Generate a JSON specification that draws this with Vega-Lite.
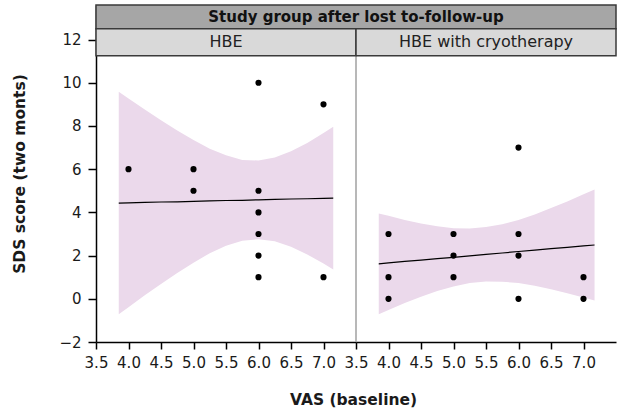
{
  "$schema": "https://vega.github.io/schema/vega-lite/v6.json",
  "background": "white",
  "padding": {"left": 12, "top": 4, "right": 0, "bottom": 0},
  "spacing": 0,
  "bounds": "flush",
  "config": {
    "view": {"stroke": null},
    "font": "DejaVu Sans",
    "axis": {
      "grid": false,
      "domainColor": "#000000",
      "domainWidth": 1.5,
      "tickColor": "#000000",
      "tickWidth": 1.5,
      "labelColor": "#1a1a1a",
      "labelFontSize": 15,
      "labelOverlap": false,
      "labelFlush": false,
      "titleColor": "#1a1a1a",
      "titleFontSize": 15.5,
      "titleFontWeight": "bold"
    }
  },
  "datasets": {
    "points": [
      {"group": "HBE", "vas": 4, "sds": 6},
      {"group": "HBE", "vas": 5, "sds": 6},
      {"group": "HBE", "vas": 5, "sds": 5},
      {"group": "HBE", "vas": 6, "sds": 10},
      {"group": "HBE", "vas": 6, "sds": 5},
      {"group": "HBE", "vas": 6, "sds": 4},
      {"group": "HBE", "vas": 6, "sds": 3},
      {"group": "HBE", "vas": 6, "sds": 2},
      {"group": "HBE", "vas": 6, "sds": 1},
      {"group": "HBE", "vas": 7, "sds": 9},
      {"group": "HBE", "vas": 7, "sds": 1},
      {"group": "HBE with cryotherapy", "vas": 4, "sds": 3},
      {"group": "HBE with cryotherapy", "vas": 4, "sds": 1},
      {"group": "HBE with cryotherapy", "vas": 4, "sds": 0},
      {"group": "HBE with cryotherapy", "vas": 5, "sds": 3},
      {"group": "HBE with cryotherapy", "vas": 5, "sds": 2},
      {"group": "HBE with cryotherapy", "vas": 5, "sds": 1},
      {"group": "HBE with cryotherapy", "vas": 6, "sds": 7},
      {"group": "HBE with cryotherapy", "vas": 6, "sds": 3},
      {"group": "HBE with cryotherapy", "vas": 6, "sds": 2},
      {"group": "HBE with cryotherapy", "vas": 6, "sds": 0},
      {"group": "HBE with cryotherapy", "vas": 7, "sds": 1},
      {"group": "HBE with cryotherapy", "vas": 7, "sds": 0}
    ],
    "fits": [
      {"group": "HBE", "vas": 3.85, "fit": 4.43, "lo": -0.72, "hi": 9.58},
      {"group": "HBE", "vas": 4.0, "fit": 4.44, "lo": -0.39, "hi": 9.27},
      {"group": "HBE", "vas": 4.25, "fit": 4.46, "lo": 0.16, "hi": 8.76},
      {"group": "HBE", "vas": 4.5, "fit": 4.48, "lo": 0.69, "hi": 8.27},
      {"group": "HBE", "vas": 4.75, "fit": 4.49, "lo": 1.19, "hi": 7.79},
      {"group": "HBE", "vas": 5.0, "fit": 4.51, "lo": 1.67, "hi": 7.35},
      {"group": "HBE", "vas": 5.25, "fit": 4.53, "lo": 2.11, "hi": 6.95},
      {"group": "HBE", "vas": 5.5, "fit": 4.55, "lo": 2.46, "hi": 6.64},
      {"group": "HBE", "vas": 5.75, "fit": 4.56, "lo": 2.69, "hi": 6.43},
      {"group": "HBE", "vas": 6.0, "fit": 4.58, "lo": 2.76, "hi": 6.4},
      {"group": "HBE", "vas": 6.25, "fit": 4.6, "lo": 2.66, "hi": 6.54},
      {"group": "HBE", "vas": 6.5, "fit": 4.62, "lo": 2.41, "hi": 6.83},
      {"group": "HBE", "vas": 6.75, "fit": 4.63, "lo": 2.05, "hi": 7.21},
      {"group": "HBE", "vas": 7.0, "fit": 4.65, "lo": 1.63, "hi": 7.67},
      {"group": "HBE", "vas": 7.15, "fit": 4.66, "lo": 1.36, "hi": 7.96},
      {"group": "HBE with cryotherapy", "vas": 3.85, "fit": 1.62, "lo": -0.71, "hi": 3.95},
      {"group": "HBE with cryotherapy", "vas": 4.0, "fit": 1.66, "lo": -0.52, "hi": 3.84},
      {"group": "HBE with cryotherapy", "vas": 4.25, "fit": 1.73, "lo": -0.19, "hi": 3.65},
      {"group": "HBE with cryotherapy", "vas": 4.5, "fit": 1.79, "lo": 0.1, "hi": 3.48},
      {"group": "HBE with cryotherapy", "vas": 4.75, "fit": 1.86, "lo": 0.36, "hi": 3.36},
      {"group": "HBE with cryotherapy", "vas": 5.0, "fit": 1.92, "lo": 0.57, "hi": 3.27},
      {"group": "HBE with cryotherapy", "vas": 5.25, "fit": 1.99, "lo": 0.73, "hi": 3.25},
      {"group": "HBE with cryotherapy", "vas": 5.5, "fit": 2.06, "lo": 0.8, "hi": 3.32},
      {"group": "HBE with cryotherapy", "vas": 5.75, "fit": 2.12, "lo": 0.79, "hi": 3.45},
      {"group": "HBE with cryotherapy", "vas": 6.0, "fit": 2.19, "lo": 0.73, "hi": 3.65},
      {"group": "HBE with cryotherapy", "vas": 6.25, "fit": 2.25, "lo": 0.6, "hi": 3.9},
      {"group": "HBE with cryotherapy", "vas": 6.5, "fit": 2.32, "lo": 0.44, "hi": 4.2},
      {"group": "HBE with cryotherapy", "vas": 6.75, "fit": 2.38, "lo": 0.26, "hi": 4.5},
      {"group": "HBE with cryotherapy", "vas": 7.0, "fit": 2.45, "lo": 0.06, "hi": 4.84},
      {"group": "HBE with cryotherapy", "vas": 7.17, "fit": 2.49, "lo": -0.08, "hi": 5.06}
    ]
  },
  "hconcat": [
    {
      "width": 260,
      "height": 337,
      "layer": [
        {
          "data": {"name": "fits"},
          "transform": [{"filter": "datum.group === 'HBE'"}],
          "mark": {"type": "area", "color": "#EBD9EB", "opacity": 1},
          "encoding": {
            "x": {"field": "vas", "type": "quantitative",
              "scale": {"domain": [3.5, 7.5], "nice": false, "zero": false},
              "axis": {"values": [3.5, 4, 4.5, 5, 5.5, 6, 6.5, 7], "tickCount": 20, "format": ".1f", "tickSize": 7, "labelPadding": 6,
                "labelOverlap": false, "labelBound": false, "labelFlush": false,
                "title": "VAS (baseline)", "titleX": 257, "titleAlign": "center", "titlePadding": 22}},
            "y": {"field": "hi", "type": "quantitative",
              "scale": {"domain": [-2, 13.6], "nice": false, "zero": false},
              "axis": {"values": [-2, 0, 2, 4, 6, 8, 10, 12], "tickCount": 20, "tickSize": 8, "labelPadding": 7, "labelOverlap": false, "labelFlush": false,
                "title": "SDS score (two monts)", "titlePadding": 31}},
            "y2": {"field": "lo"}
          }
        },
        {
          "data": {"name": "fits"},
          "transform": [{"filter": "datum.group === 'HBE'"}],
          "mark": {"type": "line", "color": "#000000", "strokeWidth": 1.2},
          "encoding": {
            "x": {"field": "vas", "type": "quantitative"},
            "y": {"field": "fit", "type": "quantitative"}
          }
        },
        {
          "data": {"name": "points"},
          "transform": [{"filter": "datum.group === 'HBE'"}],
          "mark": {"type": "circle", "color": "#000000", "opacity": 1, "size": 38},
          "encoding": {
            "x": {"field": "vas", "type": "quantitative"},
            "y": {"field": "sds", "type": "quantitative"}
          }
        },
        {
          "data": {"values": [{}]},
          "mark": {"type": "rect", "fill": "#A6A6A6", "stroke": "#3a3a3a", "strokeWidth": 1.5},
          "encoding": {
            "x": {"datum": 3.5, "type": "quantitative"},
            "x2": {"datum": 11.5},
            "y": {"datum": 13.6, "type": "quantitative"},
            "y2": {"datum": 12.5}
          }
        },
        {
          "data": {"values": [{}]},
          "mark": {"type": "rect", "fill": "#D9D9D9", "stroke": "#3a3a3a", "strokeWidth": 1.5},
          "encoding": {
            "x": {"datum": 3.5, "type": "quantitative"},
            "x2": {"datum": 7.5},
            "y": {"datum": 12.5, "type": "quantitative"},
            "y2": {"datum": 11.25}
          }
        },
        {
          "data": {"values": [{}]},
          "mark": {"type": "text", "fontSize": 15, "fontWeight": "bold", "color": "#111111", "baseline": "middle", "align": "center"},
          "encoding": {
            "x": {"datum": 7.5, "type": "quantitative"},
            "y": {"datum": 13.05, "type": "quantitative"},
            "text": {"value": "Study group after lost to-follow-up"}
          }
        },
        {
          "data": {"values": [{}]},
          "mark": {"type": "text", "fontSize": 16, "color": "#222222", "baseline": "middle", "align": "center"},
          "encoding": {
            "x": {"datum": 5.5, "type": "quantitative"},
            "y": {"datum": 11.875, "type": "quantitative"},
            "text": {"value": "HBE"}
          }
        }
      ]
    },
    {
      "width": 260,
      "height": 337,
      "layer": [
        {
          "data": {"name": "fits"},
          "transform": [{"filter": "datum.group === 'HBE with cryotherapy'"}],
          "mark": {"type": "area", "color": "#EBD9EB", "opacity": 1},
          "encoding": {
            "x": {"field": "vas", "type": "quantitative",
              "scale": {"domain": [3.5, 7.5], "nice": false, "zero": false},
              "axis": {"values": [3.5, 4, 4.5, 5, 5.5, 6, 6.5, 7], "tickCount": 20, "format": ".1f", "tickSize": 7, "labelPadding": 6,
                "labelOverlap": false, "labelBound": false, "labelFlush": false, "title": null}},
            "y": {"field": "hi", "type": "quantitative",
              "scale": {"domain": [-2, 13.6], "nice": false, "zero": false},
              "axis": null},
            "y2": {"field": "lo"}
          }
        },
        {
          "data": {"name": "fits"},
          "transform": [{"filter": "datum.group === 'HBE with cryotherapy'"}],
          "mark": {"type": "line", "color": "#000000", "strokeWidth": 1.2},
          "encoding": {
            "x": {"field": "vas", "type": "quantitative"},
            "y": {"field": "fit", "type": "quantitative"}
          }
        },
        {
          "data": {"name": "points"},
          "transform": [{"filter": "datum.group === 'HBE with cryotherapy'"}],
          "mark": {"type": "circle", "color": "#000000", "opacity": 1, "size": 38},
          "encoding": {
            "x": {"field": "vas", "type": "quantitative"},
            "y": {"field": "sds", "type": "quantitative"}
          }
        },
        {
          "data": {"values": [{}]},
          "mark": {"type": "rule", "color": "#A0A0A0", "strokeWidth": 1.5},
          "encoding": {
            "x": {"datum": 3.5, "type": "quantitative"},
            "y": {"datum": -2, "type": "quantitative"},
            "y2": {"datum": 11.25}
          }
        },
        {
          "data": {"values": [{}]},
          "mark": {"type": "rect", "fill": "#D9D9D9", "stroke": "#3a3a3a", "strokeWidth": 1.5},
          "encoding": {
            "x": {"datum": 3.5, "type": "quantitative"},
            "x2": {"datum": 7.5},
            "y": {"datum": 12.5, "type": "quantitative"},
            "y2": {"datum": 11.25}
          }
        },
        {
          "data": {"values": [{}]},
          "mark": {"type": "text", "fontSize": 16, "color": "#222222", "baseline": "middle", "align": "center"},
          "encoding": {
            "x": {"datum": 5.5, "type": "quantitative"},
            "y": {"datum": 11.875, "type": "quantitative"},
            "text": {"value": "HBE with cryotherapy"}
          }
        }
      ]
    }
  ]
}
